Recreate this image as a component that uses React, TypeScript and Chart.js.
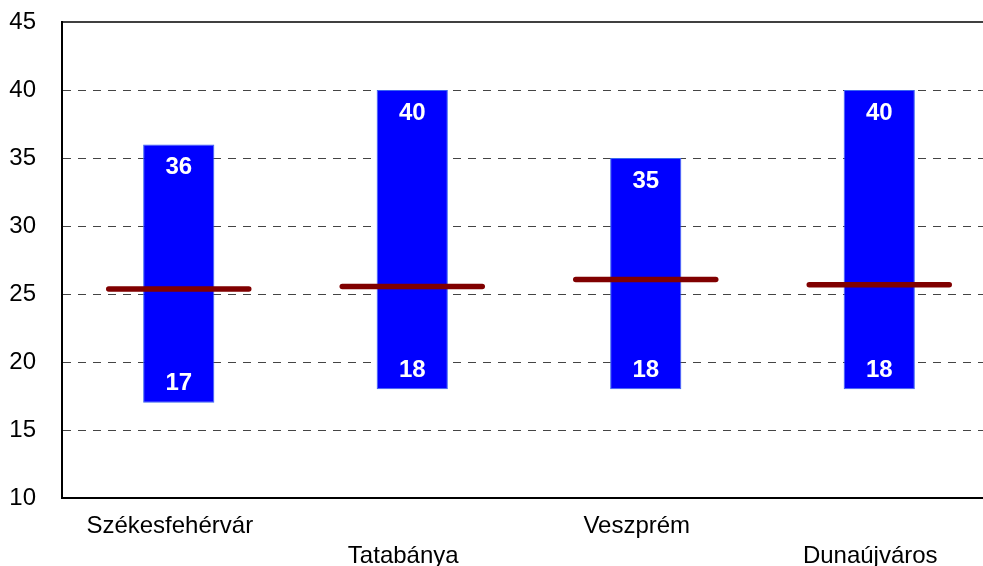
import React, { useEffect, useRef } from "react";
import { Chart, registerables } from "chart.js";

Chart.register(...registerables);

const categories: string[] = ["Székesfehérvár", "Tatabánya", "Veszprém", "Dunaújváros"];
const minValues: number[] = [17, 18, 18, 18];
const maxValues: number[] = [36, 40, 35, 40];
const avgValues: number[] = [25.37, 25.56, 26.07, 25.68];
const yTicks: number[] = [10, 15, 20, 25, 30, 35, 40, 45];

const FONT = "'Liberation Sans', Arial, sans-serif";

const barLabelPlugin = {
  id: "barLabels",
  afterDatasetsDraw(chart: any) {
    const ctx = chart.ctx;
    const y = chart.scales.y;
    const meta = chart.getDatasetMeta(0);
    ctx.save();
    ctx.fillStyle = "#ffffff";
    ctx.font = `bold 24px ${FONT}`;
    ctx.textAlign = "center";
    ctx.textBaseline = "middle";
    meta.data.forEach((bar: any, i: number) => {
      ctx.fillText(String(maxValues[i]), bar.x, y.getPixelForValue(maxValues[i]) + 23);
      ctx.fillText(String(minValues[i]), bar.x, y.getPixelForValue(minValues[i]) - 19);
    });
    ctx.restore();
  },
};

const frameTopPlugin = {
  id: "frameTop",
  afterDraw(chart: any) {
    const { ctx, chartArea } = chart;
    ctx.save();
    ctx.strokeStyle = "#000000";
    ctx.lineWidth = 1.5;
    ctx.beginPath();
    ctx.moveTo(chartArea.left, chartArea.top);
    ctx.lineTo(chartArea.right, chartArea.top);
    ctx.stroke();
    ctx.restore();
  },
};

const roundCapPlugin = {
  id: "roundCap",
  beforeDatasetDraw(chart: any, args: any) {
    if (args.index === 1) {
      chart.ctx.save();
      chart.ctx.lineCap = "round";
    }
  },
  afterDatasetDraw(chart: any, args: any) {
    if (args.index === 1) chart.ctx.restore();
  },
};

export default function App() {
  const ref = useRef<HTMLCanvasElement>(null);
  useEffect(() => {
    if (!ref.current) return;
    const chart = new Chart(ref.current, {
      type: "bar",
      data: {
        labels: categories,
        datasets: [
          {
            type: "bar",
            data: categories.map((_, i) => [minValues[i], maxValues[i]]) as any,
            backgroundColor: "#0000ff",
            borderColor: "#3a66f0",
            borderWidth: 1,
            borderSkipped: false,
            barPercentage: 0.305,
            categoryPercentage: 1,
            order: 2,
          },
          {
            type: "line",
            data: avgValues,
            showLine: false,
            clip: false,
            pointStyle: "line",
            pointRadius: 70,
            pointHoverRadius: 70,
            pointBorderWidth: 5.5,
            pointBorderColor: "#800000",
            pointBackgroundColor: "#800000",
            order: 1,
          } as any,
        ],
      },
      options: {
        responsive: false,
        animation: false,
        devicePixelRatio: 1,
        events: [],
        layout: { autoPadding: false, padding: { top: 22, left: 0, right: 0, bottom: 0 } },
        plugins: { legend: { display: false }, tooltip: { enabled: false } },
        scales: {
          x: {
            type: "category",
            position: "bottom",
            offset: true,
            grid: { display: false, drawTicks: false },
            border: { display: true, color: "#000000", width: 2 },
            ticks: {
              color: "#000000",
              font: { family: FONT, size: 24, lineHeight: "30px" },
              padding: 13,
              labelOffset: -9,
              maxRotation: 0,
              autoSkip: false,
              callback: (_v: any, i: number) => (i % 2 === 0 ? [categories[i]] : ["", categories[i]]),
            },
            afterFit: (s: any) => {
              s.height = 68;
              s.paddingLeft = 0;
              s.paddingRight = 0;
            },
          },
          y: {
            type: "linear",
            min: 10,
            max: 45,
            afterBuildTicks: (s: any) => {
              s.ticks = yTicks.map((v) => ({ value: v }));
            },
            grid: {
              drawTicks: false,
              color: (c: any) => (c.tick && (c.tick.value === 10 || c.tick.value === 45) ? "rgba(0,0,0,0)" : "#444444"),
              lineWidth: 1,
            },
            border: { display: true, color: "#000000", width: 2, dash: [8, 7] },
            ticks: {
              color: "#000000",
              font: { family: FONT, size: 24 },
              padding: 26,
            },
            afterFit: (s: any) => {
              s.width = 62;
              s.paddingTop = 0;
              s.paddingBottom = 0;
            },
          },
        },
      },
      plugins: [barLabelPlugin, roundCapPlugin, frameTopPlugin],
    });
    return () => chart.destroy();
  }, []);

  return (
    <div style={{ position: "fixed", left: 0, top: 0, width: 983, height: 566, overflow: "hidden", background: "#fff" }}>
      <canvas ref={ref} width={996} height={566} style={{ display: "block" }} />
    </div>
  );
}
